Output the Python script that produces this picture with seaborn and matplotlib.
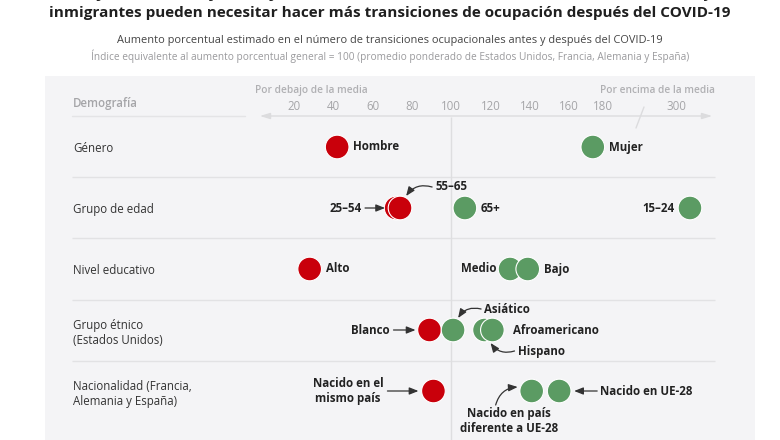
import matplotlib
matplotlib.use("Agg")
import matplotlib.pyplot as plt
import matplotlib.transforms as mtransforms
import numpy as np
import pandas as pd
import seaborn as sns

# ---- data ----
groups = ["Género", "Grupo de edad", "Nivel educativo",
          "Grupo étnico\n(Estados Unidos)", "Nacionalidad (Francia,\nAlemania y España)"]
point_group = [0, 0, 1, 1, 1, 1, 2, 2, 2, 3, 3, 3, 3, 4, 4, 4]
point_label = ["Hombre", "Mujer", "55–65", "25–54", "65+", "15–24",
               "Alto", "Medio", "Bajo",
               "Blanco", "Asiático", "Hispano", "Afroamericano",
               "Nacido en el\nmismo país", "Nacido en país\ndiferente a UE-28", "Nacido en UE-28"]
point_value = [42, 174, 72, 74, 107, 323, 28, 130, 139, 89, 101, 117, 121, 91, 141, 155]
tick_values = [20, 40, 60, 80, 100, 120, 140, 160, 180, 300]

df = pd.DataFrame({"row": point_group, "label": point_label, "value": point_value})
df["lado"] = np.where(df["value"] < 100, "debajo", "encima")

# broken axis: value -> pixel position
knot_val = [-150, 160, 180, 300, 600]
knot_px = [294 - 170 * 1.965, 569, 603, 676, 676 + 300 * 0.608]
fwd = lambda v: np.interp(v, knot_val, knot_px)
inv = lambda p: np.interp(p, knot_px, knot_val)
yrow = lambda py: (py - 147) / 61.0

W, H = 780, 440
sns.set_theme(style="white")
plt.rcParams["font.family"] = ["Open Sans", "DejaVu Sans"]

fig = plt.figure(figsize=(W / 100, H / 100), dpi=100)
fig.patch.set_facecolor("white")
pix = mtransforms.Affine2D().scale(1, -1).translate(0, H)  # image pixels -> display

ax = fig.add_axes([45 / W, 0, 710 / W, (H - 76) / H])
ax.set_facecolor("#f4f4f6")
ax.set_xscale("function", functions=(fwd, inv))
ax.set_xlim(inv(45), inv(755))
ax.set_ylim(yrow(440), yrow(76))
for s in ax.spines.values():
    s.set_visible(False)

# grid-like structure
ax.hlines([r + 0.5 for r in range(4)], inv(72), inv(715), color="#e2e2e4", lw=1, zorder=1)
ax.vlines(100, yrow(117), yrow(440), color="#dedee0", lw=1, zorder=1)

sns.scatterplot(data=df, x="value", y="row", hue="lado",
                palette={"debajo": "#c9000b", "encima": "#5b9b63"},
                s=290, edgecolor="white", linewidth=0.8, legend=False, ax=ax, zorder=3)

# ticks on top, inside panel
ax.set_xticks(tick_values)
ax.set_xticklabels([str(t) for t in tick_values])
ax.tick_params(axis="x", top=True, labeltop=True, bottom=False, labelbottom=False,
               length=0, pad=-27, labelsize=8.3, labelcolor="#a5a5a8")
ax.set_yticks(range(len(groups)))
ax.set_yticklabels(groups)
ax.tick_params(axis="y", length=0, pad=-20, labelsize=8.3, labelcolor="#333333")
for lbl in ax.get_yticklabels():
    lbl.set_ha("left")
ax.set_xlabel("")
ax.set_ylabel("")

# axis arrow and break mark
ax.annotate("", xy=(715, 116), xytext=(257, 116), xycoords=pix, textcoords=pix,
            arrowprops=dict(arrowstyle="<|-|>,head_length=0.5,head_width=0.15",
                            color="#dcdcde", lw=1))
ax.plot([636, 644], [128, 107], color="#dcdcde", lw=1, transform=pix, clip_on=False)
ax.plot([72, 245], [116, 116], color="#e4e4e6", lw=1, transform=pix, clip_on=False)
ax.text(73, 103, "Demografía", transform=pix, ha="left", va="center",
        fontsize=8.3, color="#a5a5a8", fontweight="semibold")
ax.text(255, 90, "Por debajo de la media", transform=pix, ha="left", va="center",
        fontsize=7.3, color="#b0b0b3", fontweight="semibold")
ax.text(715, 90, "Por encima de la media", transform=pix, ha="right", va="center",
        fontsize=7.3, color="#b0b0b3", fontweight="semibold")

# point labels: text offset (dx, dy), alignment, optional arrow (x0, y0, x1, y1, rad), image px
label_layout = {
    "Hombre": (16, 0, "left", None),
    "Mujer": (16, 0, "left", None),
    "25–54": (-38, 0, "right", (-35, 0, -15, 0, 0)),
    "55–65": (39, -21, "left", (36, -21, 10, -12, 0.35)),
    "65+": (16, 0, "left", None),
    "15–24": (-15, 0, "right", None),
    "Alto": (16, 0, "left", None),
    "Medio": (-14, 0, "right", None),
    "Bajo": (16, 0, "left", None),
    "Blanco": (-40, 0, "right", (-36, 0, -14, 0, 0)),
    "Asiático": (31, -21, "left", (28, -21, 5, -12, 0.35)),
    "Hispano": (33, 21, "left", (30, 21, 6, 13, -0.35)),
    "Afroamericano": (21, 0, "left", None),
    "Nacido en el\nmismo país": (-50, 0, "right", (-46, 0, -15, 0, 0)),
    "Nacido en país\ndiferente a UE-28": (-23, 30, "center", (-36, 14, -14, -4, -0.35)),
    "Nacido en UE-28": (41, 0, "left", (38, 0, 15, 0, 0)),
}

def shifted(dx, dy):
    return mtransforms.offset_copy(ax.transData, fig=fig, x=dx, y=-dy, units="dots")

for lab, val, r in zip(df["label"], df["value"], df["row"]):
    dx, dy, ha, arr = label_layout[lab]
    ax.text(val, r, lab, transform=shifted(dx, dy), ha=ha, va="center",
            multialignment="center", fontsize=8.3, fontweight="bold", color="#222222", zorder=4)
    if arr is not None:
        x0, y0, x1, y1, rad = arr
        ax.annotate("", xy=(val, r), xycoords=shifted(x1, y1),
                    xytext=(val, r), textcoords=shifted(x0, y0),
                    arrowprops=dict(arrowstyle="-|>,head_length=0.45,head_width=0.18",
                                    color="#333333", lw=0.9, shrinkA=0, shrinkB=0,
                                    connectionstyle=f"arc3,rad={rad}"), zorder=4)

# titles (first line is cut by the top edge, as in the source image)
fig.text(390 / W, 1 - (-6) / H, "Las mujeres, los trabajadores jóvenes, con menor nivel educativo, las minorías étnicas y los",
         ha="center", va="center", fontsize=11, fontweight="bold", color="#1f1f1f")
fig.text(390 / W, 1 - 13 / H, "inmigrantes pueden necesitar hacer más transiciones de ocupación después del COVID-19",
         ha="center", va="center", fontsize=11, fontweight="bold", color="#1f1f1f")
fig.text(390 / W, 1 - 41 / H, "Aumento porcentual estimado en el número de transiciones ocupacionales antes y después del COVID-19",
         ha="center", va="center", fontsize=7.95, color="#444444")
fig.text(390 / W, 1 - 56 / H, "Índice equivalente al aumento porcentual general = 100 (promedio ponderado de Estados Unidos, Francia, Alemania y España)",
         ha="center", va="center", fontsize=7.3, color="#9a9a9d")

fig.savefig("out.png", dpi=100)
